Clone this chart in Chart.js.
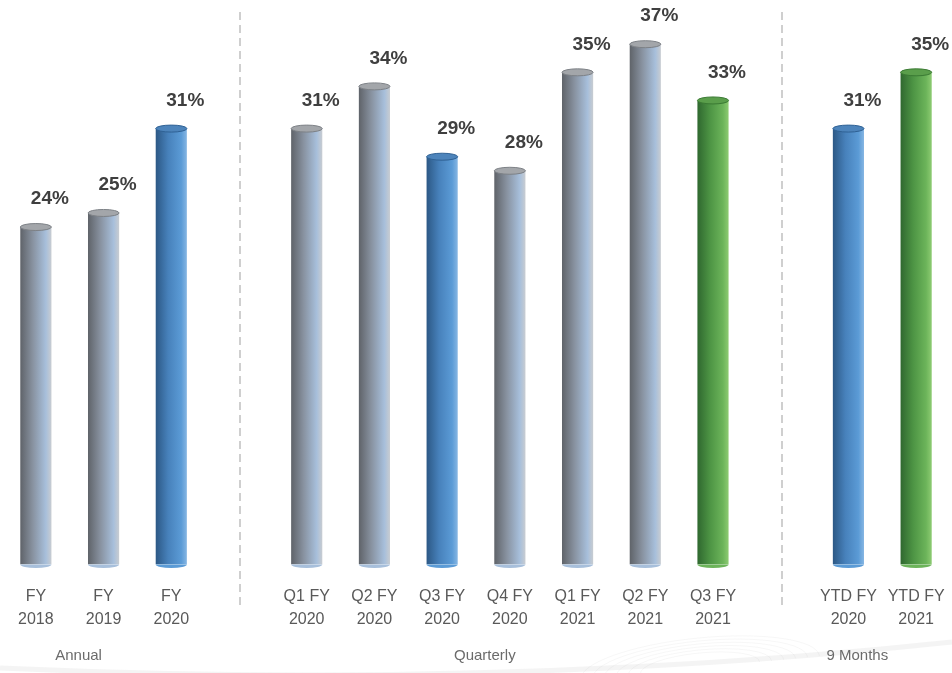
<!DOCTYPE html>
<html>
<head>
<meta charset="utf-8">
<script src="https://cdn.jsdelivr.net/npm/chart.js@4.4.1/dist/chart.umd.min.js"></script>
<style>
  body { margin: 0; background: #fff; }
</style>
</head>
<body>
<canvas id="chart" width="952" height="673"></canvas>
<script>
// categories (empty slots keep the gaps between the three groups)
const categories = [
    ['FY', '2018'], ['FY', '2019'], ['FY', '2020'], '',
    ['Q1 FY', '2020'], ['Q2 FY', '2020'], ['Q3 FY', '2020'], ['Q4 FY', '2020'],
    ['Q1 FY', '2021'], ['Q2 FY', '2021'], ['Q3 FY', '2021'], '',
    ['YTD FY', '2020'], ['YTD FY', '2021']
];
const values = [24, 25, 31, null, 31, 34, 29, 28, 35, 37, 33, null, 31, 35];
const colourKinds = ['gray', 'gray', 'blue', null, 'gray', 'gray', 'blue', 'gray', 'gray', 'gray', 'green', null, 'blue', 'green'];
const groupNames = ['Annual', 'Quarterly', '9 Months'];
const groupFirst = [0, 4, 12];
const groupLast = [2, 10, 13];
const separatorSlots = [3, 11];

const palettes = {
    gray:  { stops: ['#5f6369', '#8892a0', '#a7bfdb', '#c8ccd1'], cap: '#a3a6aa', capEdge: '#7d8186' },
    blue:  { stops: ['#2c5885', '#4781bb', '#5b9bd6', '#86b6e3'], cap: '#4d84bb', capEdge: '#2f6194' },
    green: { stops: ['#2f682f', '#4d9444', '#6cb45a', '#8dcb72'], cap: '#5a9e4b', capEdge: '#3a7a33' }
};

function barGradient(context) {
    const chart = context.chart;
    const kind = colourKinds[context.dataIndex];
    if (!kind || !chart.chartArea) return '#999';
    const x = chart.scales.x.getPixelForValue(context.dataIndex);
    const w = chart.scales.x.width / categories.length * context.dataset.barPercentage;
    const g = chart.ctx.createLinearGradient(x - w / 2, 0, x + w / 2, 0);
    const s = palettes[kind].stops;
    g.addColorStop(0, s[0]);
    g.addColorStop(0.4, s[1]);
    g.addColorStop(0.82, s[2]);
    g.addColorStop(1, s[3]);
    return g;
}

const cylinderPlugin = {
    id: 'cylinders',
    beforeDraw(chart) {
        const ctx = chart.ctx;
        // faint swoosh in the background
        ctx.save();
        ctx.strokeStyle = 'rgba(120,120,120,0.08)';
        ctx.lineWidth = 5;
        ctx.beginPath();
        ctx.moveTo(0, 668);
        ctx.quadraticCurveTo(500, 690, 952, 642);
        ctx.stroke();
        ctx.lineWidth = 1;
        ctx.strokeStyle = 'rgba(120,120,120,0.06)';
        for (let i = 0; i < 6; i++) {
            ctx.beginPath();
            ctx.ellipse(700, 668, 120 - i * 12, 30 - i * 3, -0.1, Math.PI, 2 * Math.PI);
            ctx.stroke();
        }
        ctx.restore();
    },
    beforeDatasetsDraw(chart) {
        const ctx = chart.ctx;
        const x = chart.scales.x;
        ctx.save();
        ctx.strokeStyle = '#cfcfcf';
        ctx.lineWidth = 2;
        ctx.setLineDash([8, 5]);
        separatorSlots.forEach(function (slot) {
            const px = Math.round(x.getPixelForValue(slot)) + 1;
            ctx.beginPath();
            ctx.moveTo(px, 12);
            ctx.lineTo(px, 607);
            ctx.stroke();
        });
        ctx.restore();
    },
    afterDatasetsDraw(chart) {
        const ctx = chart.ctx;
        const meta = chart.getDatasetMeta(0);
        ctx.save();
        meta.data.forEach(function (bar, i) {
            const kind = colourKinds[i];
            if (!kind || values[i] == null) return;
            const p = palettes[kind];
            const rx = bar.width / 2;
            const ry = 3.5;
            // bottom rim
            ctx.beginPath();
            ctx.ellipse(bar.x, bar.base, rx, ry, 0, 0, Math.PI);
            ctx.fillStyle = p.stops[2];
            ctx.fill();
            // top cap
            ctx.beginPath();
            ctx.ellipse(bar.x, bar.y, rx, ry, 0, 0, 2 * Math.PI);
            ctx.fillStyle = p.cap;
            ctx.fill();
            ctx.lineWidth = 1;
            ctx.strokeStyle = p.capEdge;
            ctx.stroke();
            // value label
            ctx.fillStyle = '#3f3f3f';
            ctx.font = 'bold 19px "Liberation Sans", Arial, sans-serif';
            ctx.textAlign = 'center';
            ctx.textBaseline = 'middle';
            ctx.fillText(values[i] + '%', bar.x + 14, bar.y - 28);
        });
        ctx.restore();
    },
    afterDraw(chart) {
        const ctx = chart.ctx;
        const x = chart.scales.x;
        ctx.save();
        ctx.fillStyle = '#6b6b6b';
        ctx.font = '15px "Liberation Sans", Arial, sans-serif';
        ctx.textAlign = 'center';
        ctx.textBaseline = 'middle';
        groupNames.forEach(function (name, i) {
            const mid = (x.getPixelForValue(groupFirst[i]) + x.getPixelForValue(groupLast[i])) / 2;
            ctx.fillText(name, mid - 25, 656);
        });
        ctx.restore();
    }
};

new Chart(document.getElementById('chart'), {
    type: 'bar',
    data: {
        labels: categories,
        datasets: [{
            data: values,
            backgroundColor: barGradient,
            borderWidth: 0,
            barPercentage: 0.46,
            categoryPercentage: 1
        }]
    },
    options: {
        responsive: false,
        devicePixelRatio: 1,
        animation: false,
        layout: { padding: { top: 2, left: 2, right: 2, bottom: 22 } },
        plugins: {
            legend: { display: false },
            tooltip: { enabled: false }
        },
        scales: {
            x: {
                grid: { display: false, drawTicks: false },
                border: { display: false },
                afterFit: function (scale) {
                    scale.paddingLeft = 0;
                    scale.paddingRight = 0;
                },
                ticks: {
                    color: '#595959',
                    font: { family: '"Liberation Sans", Arial, sans-serif', size: 16, lineHeight: 1.45 },
                    padding: 20,
                    maxRotation: 0,
                    autoSkip: false
                }
            },
            y: {
                display: false,
                min: 0,
                max: 40
            }
        }
    },
    plugins: [cylinderPlugin]
});
</script>
</body>
</html>
